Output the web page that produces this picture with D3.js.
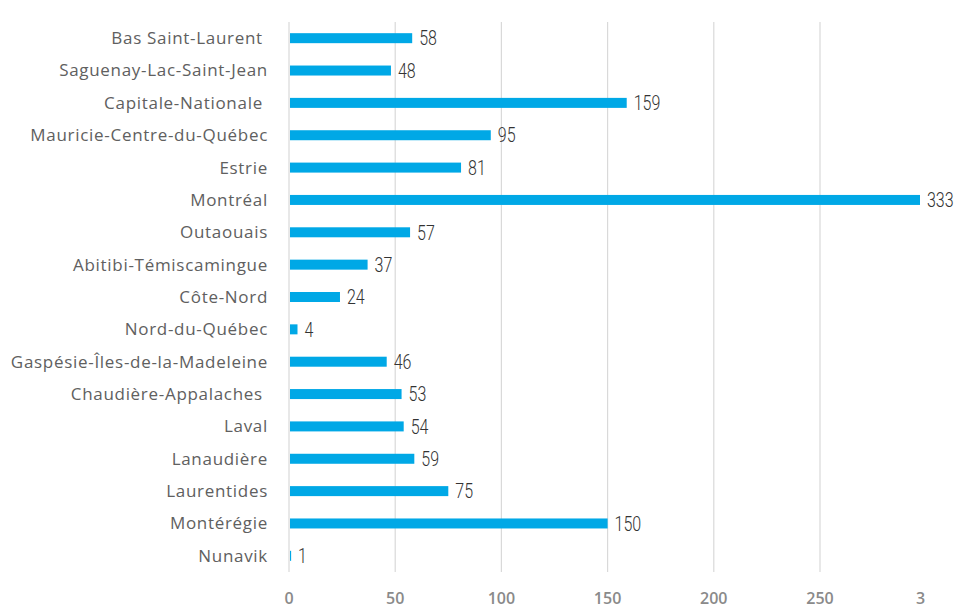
<!DOCTYPE html>
<html><head><meta charset="utf-8">
<script src="https://cdn.jsdelivr.net/npm/d3@7"></script>
<style>html,body{margin:0;padding:0;background:#fff;} text{white-space:pre;}</style>
</head><body>
<svg id="chart" width="958" height="609"></svg>
<script>
const categories = ["Bas Saint-Laurent ","Saguenay-Lac-Saint-Jean","Capitale-Nationale ","Mauricie-Centre-du-Québec","Estrie","Montréal","Outaouais","Abitibi-Témiscamingue","Côte-Nord","Nord-du-Québec","Gaspésie-Îles-de-la-Madeleine","Chaudière-Appalaches ","Laval","Lanaudière","Laurentides","Montérégie","Nunavik"];
const values = [58,48,159,95,81,333,57,37,24,4,46,53,54,59,75,150,1];
const tickValues = [0,50,100,150,200,250,300];
const tickLabels = ["0","50","100","150","200","250","3"];

const svg = d3.select("#chart");
const x = d3.scaleLinear().domain([0,250]).range([289,820]);
const y = d3.scaleBand().domain(categories).range([22,572]);
const clipRight = 920;
const barH = 10;

svg.append("defs").append("clipPath").attr("id","plotclip")
  .append("rect").attr("x",0).attr("y",0).attr("width",clipRight).attr("height",609);

// gridlines
const gridG = svg.append("g").attr("clip-path","url(#plotclip)");
gridG.selectAll("line").data(tickValues.filter(t=>x(t)<clipRight)).join("line")
  .attr("x1",d=>x(d)).attr("x2",d=>x(d)).attr("y1",22).attr("y2",572)
  .attr("stroke","#d9d9d9").attr("stroke-width",1.2);

// bars
const barG = svg.append("g").attr("clip-path","url(#plotclip)");
barG.selectAll("rect").data(values).join("rect")
  .attr("x",x(0)+1)
  .attr("y",(d,i)=>y(categories[i])+y.bandwidth()/2-barH/2)
  .attr("width",d=>Math.max(0,x(d)-x(0)-1))
  .attr("height",barH)
  .attr("fill","#00a8e6");

// value labels (narrow, tall digits)
svg.append("g").selectAll("text").data(values).join("text")
  .attr("transform",(d,i)=>`translate(${Math.min(x(d),clipRight)+7},${y(categories[i])+y.bandwidth()/2}) scale(0.8,1)`)
  .attr("dy","0.36em")
  .attr("font-family","Roboto, sans-serif")
  .attr("font-weight",300)
  .attr("font-size",20)
  .attr("fill","#333")
  .text(d=>d);

// category labels
svg.append("g").selectAll("text").data(categories).join("text")
  .attr("x",268)
  .attr("y",d=>y(d)+y.bandwidth()/2)
  .attr("dy","0.35em")
  .attr("text-anchor","end")
  .attr("font-family","'Open Sans', sans-serif")
  .attr("font-size",17)
  .attr("letter-spacing","0.7")
  .attr("fill","#606060")
  .text(d=>d);

// x tick labels
svg.append("g").selectAll("text").data(tickValues).join("text")
  .attr("x",d=>x(d))
  .attr("y",598)
  .attr("dy","0.35em")
  .attr("text-anchor",(d,i)=>i===tickValues.length-1?"end":"middle")
  .attr("dx",(d,i)=>i===tickValues.length-1?"-1":"0")
  .attr("font-family","'Open Sans', sans-serif")
  .attr("font-size",16)
  .attr("font-weight",600)
  .attr("fill","#8a8a8a")
  .text((d,i)=>tickLabels[i]);
</script>
</body></html>
